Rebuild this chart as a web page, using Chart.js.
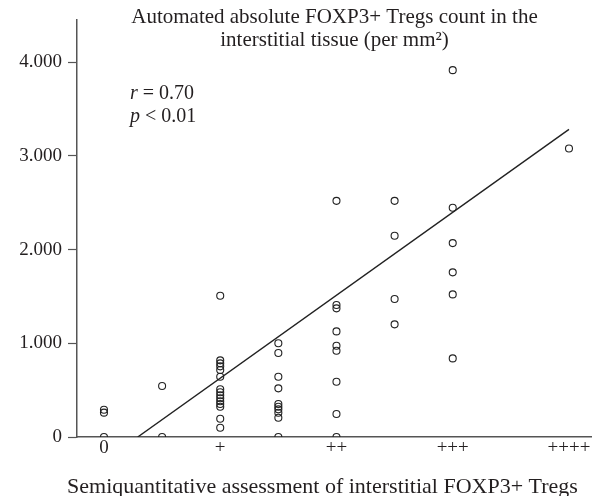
<!DOCTYPE html>
<html>
<head>
<meta charset="utf-8">
<script src="https://cdn.jsdelivr.net/npm/chart.js@4/dist/chart.umd.min.js"></script>
<style>
  html, body { margin: 0; padding: 0; background: #fff; }
  #wrap { width: 592px; height: 496px; }
</style>
</head>
<body>
<div id="wrap"><canvas id="grafico" width="592" height="496"></canvas></div>
<script>
// semiquantitative grades (x positions 0..4, half steps in between)
const grados = ["0", "+", "++", "+++", "++++"];

// automated counts per mm2, one list per grade
const grado0 = [0, 260, 290];
const grado05 = [0, 545];
const grado1 = [1507, 818, 786, 754, 715, 643, 509, 477, 445, 413, 381, 352, 323, 195, 99];
const grado15 = [1000, 896, 643, 519, 352, 323, 295, 259, 206, 0];
const grado2 = [2520, 1408, 1373, 1127, 974, 921, 590, 245, 0];
const grado25 = [2520, 2147, 1472, 1202];
const grado3 = [3915, 2446, 2069, 1757, 1522, 839];
const grado4 = [3079];

const columnas = [
  [0, grado0], [0.5, grado05], [1, grado1], [1.5, grado15],
  [2, grado2], [2.5, grado25], [3, grado3], [4, grado4]
];

// regression line
const pendiente = 885;
const intercepto = -257;
const rTexto = "0.70";
const pTexto = "0.01";

const yTicks = [0, 1000, 2000, 3000, 4000];

const titulo = ["Automated absolute FOXP3+ Tregs count in the", "interstitial tissue (per mm\u00B2)"];
const tituloX = "Semiquantitative assessment of interstitial FOXP3+ Tregs";

const puntos = [];
columnas.forEach(([x, vals]) => {
  vals.forEach(v => puntos.push({ x: x, y: v }));
});

const xInicio = -intercepto / pendiente;
const linea = [
  { x: xInicio, y: 0 },
  { x: 4, y: pendiente * 4 + intercepto }
];

const fuente = "'Liberation Serif', 'Times New Roman', serif";
const colorTexto = "#231f20";

const textoPlugin = {
  id: "textos",
  afterDraw(chart) {
    const ctx = chart.ctx;
    const area = chart.chartArea;
    const cx = (area.left + area.right) / 2;
    ctx.save();
    ctx.fillStyle = colorTexto;
    ctx.textBaseline = "alphabetic";
    ctx.textAlign = "center";
    ctx.font = "21px " + fuente;
    ctx.fillText(titulo[0], cx, 23);
    ctx.fillText(titulo[1], cx, 46);

    ctx.font = "22px " + fuente;
    ctx.fillText(tituloX, cx - 12, 493);

    ctx.textAlign = "left";
    const x0 = 130;
    ctx.font = "italic 20px " + fuente;
    ctx.fillText("r", x0, 99);
    let w = ctx.measureText("r").width;
    ctx.font = "20px " + fuente;
    ctx.fillText(" = " + rTexto, x0 + w, 99);
    ctx.font = "italic 20px " + fuente;
    ctx.fillText("p", x0, 122);
    w = ctx.measureText("p").width;
    ctx.font = "20px " + fuente;
    ctx.fillText(" < " + pTexto, x0 + w, 122);
    ctx.restore();
  }
};

const config = {
  type: "scatter",
  data: {
    datasets: [
      {
        data: puntos,
        pointStyle: "circle",
        pointRadius: 3.5,
        pointHoverRadius: 3.5,
        borderWidth: 1.1,
        borderColor: "#222",
        backgroundColor: "rgba(0,0,0,0)",
        clip: { left: 10, top: 10, right: 10, bottom: 0 }
      },
      {
        type: "line",
        data: linea,
        borderColor: "#222",
        borderWidth: 1.4,
        pointRadius: 0,
        fill: false,
        clip: 0
      }
    ]
  },
  options: {
    responsive: false,
    animation: false,
    layout: { autoPadding: false, padding: { top: 20, right: 0, left: 0, bottom: 0 } },
    plugins: {
      legend: { display: false },
      tooltip: { enabled: false }
    },
    scales: {
      x: {
        type: "linear",
        min: -0.232,
        max: 4.198,
        afterBuildTicks: scale => {
          scale.ticks = grados.map((g, i) => ({ value: i }));
        },
        afterFit: scale => {
          scale.height = 59;
          scale.paddingLeft = 0;
          scale.paddingRight = 0;
        },
        ticks: {
          color: colorTexto,
          padding: 0,
          font: { family: fuente, size: 19 },
          callback: v => grados[v]
        },
        grid: { display: true, drawOnChartArea: false, drawTicks: false },
        border: { display: true, color: "#555", width: 1.5 }
      },
      y: {
        min: 0,
        max: 4450,
        afterBuildTicks: scale => {
          scale.ticks = yTicks.map(v => ({ value: v }));
        },
        afterFit: scale => {
          scale.width = 77;
          scale.paddingTop = 0;
          scale.paddingBottom = 0;
        },
        ticks: {
          color: colorTexto,
          padding: 6,
          font: { family: fuente, size: 19 },
          callback: v => v === 0 ? "0" : (v / 1000) + ".000"
        },
        grid: { display: true, drawOnChartArea: false, tickLength: 9, color: "#555", tickWidth: 1.2 },
        border: { display: true, color: "#555", width: 1.5 }
      }
    }
  },
  plugins: [textoPlugin]
};

const grafico = new Chart(document.querySelector("#grafico").getContext("2d"), config);
</script>
</body>
</html>
